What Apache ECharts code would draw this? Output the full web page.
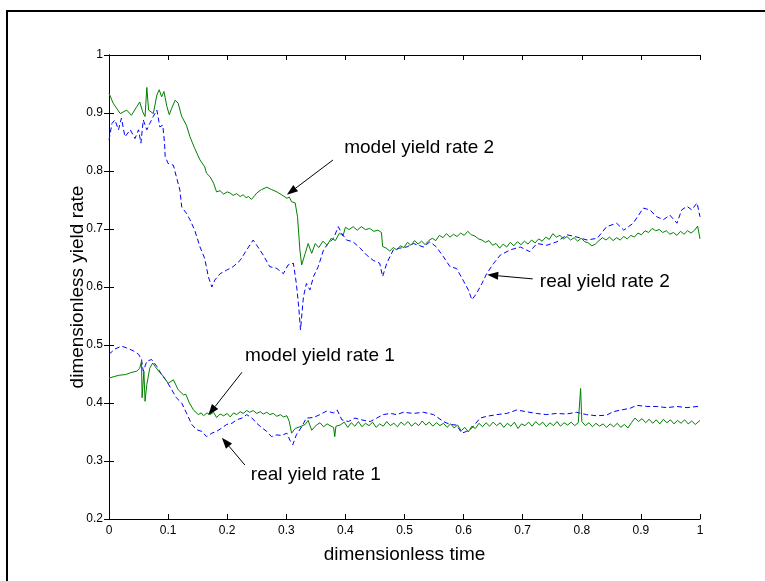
<!DOCTYPE html>
<html><head><meta charset="utf-8">
<script src="https://cdn.jsdelivr.net/npm/echarts@6/dist/echarts.min.js"></script>
<style>html,body{margin:0;padding:0;background:#fff}#c{width:765px;height:581px}</style>
</head><body><div id="c"></div>
<script>
// ---- data ----
const model2 = [
[0,0.934],[0.007,0.917],[0.019,0.899],[0.030,0.905],[0.038,0.896],[0.047,0.911],[0.052,0.919],[0.057,0.902],[0.061,0.894],[0.064,0.944],[0.067,0.905],[0.075,0.899],[0.081,0.931],[0.085,0.940],[0.089,0.928],[0.093,0.937],[0.098,0.911],[0.102,0.897],[0.106,0.908],[0.112,0.922],[0.117,0.917],[0.123,0.894],[0.131,0.879],[0.137,0.859],[0.145,0.839],[0.154,0.819],[0.162,0.807],[0.165,0.796],[0.171,0.790],[0.177,0.779],[0.182,0.764],[0.188,0.766],[0.194,0.760],[0.200,0.764],[0.205,0.762],[0.210,0.758],[0.216,0.761],[0.222,0.756],[0.227,0.759],[0.232,0.754],[0.236,0.756],[0.241,0.751],[0.246,0.757],[0.250,0.762],[0.258,0.768],[0.267,0.772],[0.275,0.768],[0.284,0.764],[0.292,0.759],[0.301,0.753],[0.305,0.755],[0.309,0.747],[0.315,0.745],[0.319,0.721],[0.323,0.664],[0.326,0.638],[0.332,0.658],[0.337,0.675],[0.343,0.658],[0.349,0.675],[0.355,0.668],
[0.362,0.679],[0.369,0.672],[0.376,0.684],[0.383,0.680],[0.390,0.693],[0.396,0.688],[0.400,0.703],[0.406,0.699],[0.413,0.704],[0.420,0.698],[0.427,0.704],[0.434,0.699],[0.441,0.701],[0.448,0.696],[0.455,0.698],[0.461,0.694],[0.463,0.670],[0.469,0.667],[0.475,0.662],[0.481,0.668],[0.487,0.664],[0.493,0.671],[0.499,0.668],[0.505,0.677],[0.511,0.672],[0.517,0.680],[0.523,0.674],[0.529,0.679],[0.535,0.673],[0.541,0.680],[0.547,0.684],[0.553,0.680],[0.559,0.689],[0.565,0.685],[0.571,0.692],[0.577,0.686],[0.583,0.691],[0.589,0.687],[0.595,0.693],[0.601,0.689],[0.607,0.696],[0.613,0.690],[0.619,0.688],[0.625,0.683],[0.631,0.681],[0.637,0.677],[0.643,0.680],[0.649,0.672],[0.655,0.675],[0.661,0.667],[0.667,0.674],[0.673,0.669],[0.679,0.677],[0.685,0.671],[0.691,0.678],[0.697,0.673],[0.703,0.679],[0.709,0.674],[0.715,0.681],[0.721,0.676],[0.727,0.683],[0.733,0.679],[0.739,0.686],[0.745,0.682],[0.751,0.692],[0.757,0.686],[0.763,0.689],[0.769,0.683],[0.775,0.687],[0.781,0.681],[0.787,0.685],[0.793,0.679],[0.799,0.684],[0.805,0.678],[0.811,0.676],[0.817,0.671],[0.823,0.674],[0.829,0.680],[0.835,0.685],[0.841,0.681],[0.847,0.686],[0.853,0.680],[0.859,0.685],[0.865,0.681],[0.871,0.687],[0.877,0.683],[0.883,0.689],[0.889,0.686],[0.895,0.693],[0.901,0.690],[0.907,0.697],[0.913,0.694],[0.919,0.701],[0.925,0.697],[0.931,0.699],[0.937,0.694],[0.943,0.697],[0.949,0.691],[0.955,0.694],[0.961,0.689],[0.967,0.696],[0.973,0.691],[0.979,0.697],[0.985,0.693],[0.991,0.698],[0.996,0.705],[1.000,0.683]
];
const real2 = [
[0,0.853],[0.005,0.882],[0.010,0.888],[0.016,0.871],[0.021,0.891],[0.027,0.859],[0.036,0.871],[0.044,0.856],[0.050,0.871],[0.054,0.848],[0.058,0.888],[0.064,0.871],[0.069,0.882],[0.075,0.894],[0.081,0.905],[0.086,0.876],[0.091,0.879],[0.094,0.848],[0.095,0.825],[0.100,0.813],[0.109,0.810],[0.114,0.790],[0.120,0.767],[0.123,0.738],[0.131,0.727],[0.137,0.716],[0.145,0.698],[0.154,0.669],[0.162,0.649],[0.168,0.618],[0.174,0.600],[0.179,0.612],[0.188,0.623],[0.199,0.629],[0.210,0.635],[0.222,0.646],[0.233,0.664],[0.244,0.681],[0.252,0.669],[0.261,0.655],[0.272,0.635],[0.284,0.632],[0.295,0.623],[0.303,0.638],[0.312,0.641],[0.317,0.606],[0.321,0.566],[0.324,0.526],[0.329,0.583],[0.334,0.606],[0.340,0.595],[0.346,0.618],[0.354,0.635],[0.363,0.664],[0.371,0.675],[0.380,0.684],[0.388,0.704],[0.394,0.692],[0.402,0.681],[0.413,0.678],[0.425,0.667],[0.436,0.655],[0.447,0.646],[0.458,0.641],[0.463,0.618],[0.470,0.641],[0.481,0.664],[0.492,0.667],[0.504,0.669],[0.515,0.675],[0.532,0.669],[0.543,0.678],[0.554,0.669],[0.566,0.652],[0.577,0.635],[0.588,0.632],[0.599,0.612],[0.608,0.595],[0.614,0.578],[0.622,0.589],[0.631,0.606],[0.639,0.623],[0.651,0.641],[0.662,0.655],[0.679,0.664],[0.696,0.669],[0.712,0.661],[0.724,0.675],[0.741,0.672],[0.758,0.678],[0.775,0.690],[0.792,0.686],[0.809,0.681],[0.826,0.684],[0.842,0.704],[0.859,0.710],[0.871,0.698],[0.887,0.710],[0.904,0.736],[0.915,0.733],[0.927,0.721],[0.938,0.716],[0.949,0.724],[0.961,0.710],[0.969,0.733],[0.978,0.739],[0.986,0.733],[0.995,0.745],[1.000,0.721]
];
const model1 = [
[0,0.443],[0.010,0.446],[0.018,0.448],[0.028,0.449],[0.036,0.452],[0.047,0.455],[0.052,0.460],[0.055,0.472],[0.056,0.409],[0.059,0.455],[0.061,0.403],[0.064,0.432],[0.069,0.460],[0.074,0.469],[0.078,0.463],[0.084,0.455],[0.092,0.446],[0.100,0.434],[0.109,0.440],[0.117,0.423],[0.126,0.414],[0.130,0.415],[0.136,0.400],[0.143,0.388],[0.151,0.380],[0.156,0.383],[0.160,0.378],[0.166,0.383],[0.171,0.380],[0.177,0.384],[0.182,0.375],[0.188,0.381],[0.194,0.378],[0.200,0.382],[0.205,0.376],[0.211,0.383],[0.216,0.380],[0.222,0.385],[0.227,0.382],[0.233,0.387],[0.238,0.384],[0.244,0.387],[0.250,0.382],[0.256,0.385],[0.261,0.381],[0.267,0.384],[0.272,0.380],[0.278,0.382],[0.284,0.377],[0.290,0.380],[0.295,0.376],[0.301,0.378],[0.305,0.368],[0.309,0.348],[0.315,0.356],[0.323,0.359],[0.332,0.363],[0.337,0.370],[0.343,0.353],[0.351,0.362],[0.357,0.366],[0.363,0.359],[0.369,0.364],[0.374,0.361],[0.380,0.358],[0.382,0.342],[0.384,0.360],[0.391,0.362],
[0.398,0.367],[0.404,0.358],[0.410,0.366],[0.416,0.360],[0.422,0.368],[0.428,0.359],[0.434,0.365],[0.440,0.361],[0.446,0.367],[0.452,0.358],[0.458,0.364],[0.464,0.360],[0.470,0.368],[0.476,0.361],[0.482,0.365],[0.488,0.359],[0.494,0.367],[0.500,0.362],[0.506,0.368],[0.512,0.360],[0.518,0.366],[0.524,0.361],[0.530,0.369],[0.536,0.362],[0.542,0.367],[0.548,0.360],[0.554,0.366],[0.560,0.361],[0.566,0.365],[0.572,0.358],[0.578,0.364],[0.584,0.357],[0.590,0.362],[0.596,0.352],[0.602,0.358],[0.608,0.350],[0.614,0.360],[0.620,0.356],[0.626,0.365],[0.632,0.359],[0.638,0.366],[0.644,0.360],[0.650,0.367],[0.656,0.361],[0.662,0.366],[0.668,0.358],[0.674,0.365],[0.680,0.360],[0.686,0.367],[0.692,0.356],[0.698,0.364],[0.704,0.361],[0.710,0.367],[0.716,0.360],[0.722,0.368],[0.728,0.362],[0.734,0.367],[0.740,0.359],[0.746,0.366],[0.752,0.361],[0.758,0.368],[0.764,0.360],[0.770,0.366],[0.776,0.362],[0.782,0.367],[0.788,0.361],[0.794,0.366],[0.797,0.366],[0.798,0.425],[0.800,0.368],[0.806,0.361],[0.812,0.366],[0.818,0.359],[0.824,0.365],[0.830,0.360],[0.836,0.364],[0.842,0.358],[0.848,0.364],[0.854,0.359],[0.860,0.365],[0.866,0.358],[0.872,0.363],[0.878,0.357],[0.884,0.366],[0.890,0.374],[0.896,0.368],[0.902,0.373],[0.908,0.366],[0.914,0.372],[0.920,0.365],[0.926,0.371],[0.932,0.364],[0.938,0.372],[0.944,0.366],[0.950,0.371],[0.956,0.364],[0.962,0.370],[0.968,0.365],[0.974,0.371],[0.980,0.364],[0.986,0.369],[0.992,0.363],[1.000,0.370]
];
const real1 = [
[0,0.484],[0.010,0.493],[0.021,0.498],[0.030,0.495],[0.041,0.490],[0.050,0.484],[0.055,0.475],[0.058,0.455],[0.064,0.472],[0.072,0.475],[0.081,0.463],[0.089,0.449],[0.098,0.437],[0.106,0.423],[0.114,0.409],[0.123,0.400],[0.131,0.383],[0.140,0.363],[0.148,0.354],[0.157,0.351],[0.165,0.342],[0.174,0.348],[0.182,0.351],[0.191,0.357],[0.199,0.363],[0.208,0.365],[0.216,0.371],[0.225,0.374],[0.233,0.380],[0.242,0.374],[0.250,0.365],[0.259,0.357],[0.267,0.351],[0.275,0.342],[0.284,0.345],[0.292,0.344],[0.301,0.348],[0.306,0.336],[0.311,0.328],[0.317,0.345],[0.326,0.359],[0.334,0.374],[0.346,0.375],[0.357,0.380],[0.368,0.386],[0.380,0.383],[0.386,0.388],[0.394,0.371],[0.405,0.368],[0.416,0.374],[0.427,0.371],[0.442,0.368],[0.453,0.374],[0.464,0.380],[0.476,0.382],[0.487,0.380],[0.498,0.384],[0.515,0.382],[0.532,0.384],[0.549,0.380],[0.566,0.368],[0.577,0.363],[0.588,0.362],[0.597,0.348],[0.605,0.351],[0.614,0.357],[0.628,0.374],[0.639,0.377],[0.656,0.380],[0.673,0.382],[0.690,0.388],[0.706,0.385],[0.723,0.382],[0.740,0.380],[0.757,0.382],[0.774,0.381],[0.791,0.384],[0.808,0.380],[0.825,0.378],[0.842,0.379],[0.853,0.385],[0.867,0.388],[0.882,0.391],[0.893,0.396],[0.910,0.394],[0.927,0.394],[0.944,0.392],[0.961,0.394],[0.978,0.392],[0.995,0.394],[1.000,0.393]
];
const annoLabels = ['model yield rate 2','real yield rate 2','model yield rate 1','real yield rate 1'];
const annoTextPos = [[0.398,0.840],[0.729,0.609],[0.230,0.481],[0.240,0.276]];
const annoArrowFrom = [[0.379,0.819],[0.717,0.614],[0.225,0.453],[0.230,0.293]];
const annoArrowTo = [[0.301,0.759],[0.640,0.621],[0.168,0.379],[0.191,0.340]];
const xAxisName = 'dimensionless time';
const yAxisName = 'dimensionless yield rate';

// ---- chart ----
const chart = echarts.init(document.getElementById('c'), null, {renderer:'canvas'});
const FONT = '"Liberation Sans", Arial, sans-serif';
const fmt = v => String(Math.round(v*10)/10);
const tickStyle = {show:true, inside:true, length:5, lineStyle:{color:'#000', width:1}};
const lineAx = {show:true, lineStyle:{color:'#000', width:1}};
const grid = {left:109, right:65, top:55, bottom:62};
chart.setOption({
  animation:false,
  backgroundColor:'#fff',
  grid: grid,
  xAxis:[
    {type:'value', min:0, max:1, interval:0.1, position:'bottom',
     axisLine:lineAx, axisTick:tickStyle, splitLine:{show:false},
     axisLabel:{color:'#000', fontSize:12, fontFamily:FONT, margin:6, formatter:fmt},
     name:xAxisName, nameLocation:'middle', nameGap:26, nameMoveOverlap:false,
     nameTextStyle:{color:'#000', fontSize:19, fontFamily:FONT}},
    {type:'value', min:0, max:1, interval:0.1, position:'top',
     axisLine:lineAx, axisTick:tickStyle, splitLine:{show:false}, axisLabel:{show:false}}
  ],
  yAxis:[
    {type:'value', min:0.2, max:1, interval:0.1, position:'left',
     axisLine:lineAx, axisTick:tickStyle, splitLine:{show:false},
     axisLabel:{color:'#000', fontSize:12, fontFamily:FONT, margin:6, formatter:fmt},
     name:yAxisName, nameLocation:'middle', nameGap:22, nameMoveOverlap:false,
     nameTextStyle:{color:'#000', fontSize:19, fontFamily:FONT}},
    {type:'value', min:0.2, max:1, interval:0.1, position:'right',
     axisLine:lineAx, axisTick:tickStyle, splitLine:{show:false}, axisLabel:{show:false}}
  ],
  series:[
    {name:'real yield rate 2', type:'line', data:real2, showSymbol:false, symbol:'none',
     lineStyle:{color:'#0000ff', width:1, type:[5,3]}},
    {name:'real yield rate 1', type:'line', data:real1, showSymbol:false, symbol:'none',
     lineStyle:{color:'#0000ff', width:1, type:[5,3]}},
    {name:'model yield rate 2', type:'line', data:model2, showSymbol:false, symbol:'none',
     lineStyle:{color:'#008000', width:1}},
    {name:'model yield rate 1', type:'line', data:model1, showSymbol:false, symbol:'none',
     lineStyle:{color:'#008000', width:1}}
  ]
});

// annotations positioned through the chart's own coordinate system
const px = p => chart.convertToPixel({gridIndex:0}, p);
const graphics = [
  {type:'polyline', shape:{points:[[7,581],[7,11],[765,11]]}, style:{stroke:'#000', lineWidth:2, fill:null}, silent:true}
];
annoLabels.forEach((t,i)=>{
  const tp = px(annoTextPos[i]);
  graphics.push({type:'text', x:tp[0], y:tp[1], style:{text:t, font:'19px ' + FONT, fill:'#000', verticalAlign:'middle', align:'left'}, silent:true});
  const a = px(annoArrowFrom[i]), b = px(annoArrowTo[i]);
  const dx = b[0]-a[0], dy = b[1]-a[1], L = Math.hypot(dx,dy), ux = dx/L, uy = dy/L;
  const hl = 11, hw = 4;
  const base = [b[0]-ux*hl, b[1]-uy*hl];
  graphics.push({type:'line', shape:{x1:a[0], y1:a[1], x2:base[0], y2:base[1]}, style:{stroke:'#000', lineWidth:1}, silent:true});
  graphics.push({type:'polygon', shape:{points:[b,[base[0]-uy*hw, base[1]+ux*hw],[base[0]+uy*hw, base[1]-ux*hw]]}, style:{fill:'#000'}, silent:true});
});
chart.setOption({graphic:graphics});
</script>
</body></html>
